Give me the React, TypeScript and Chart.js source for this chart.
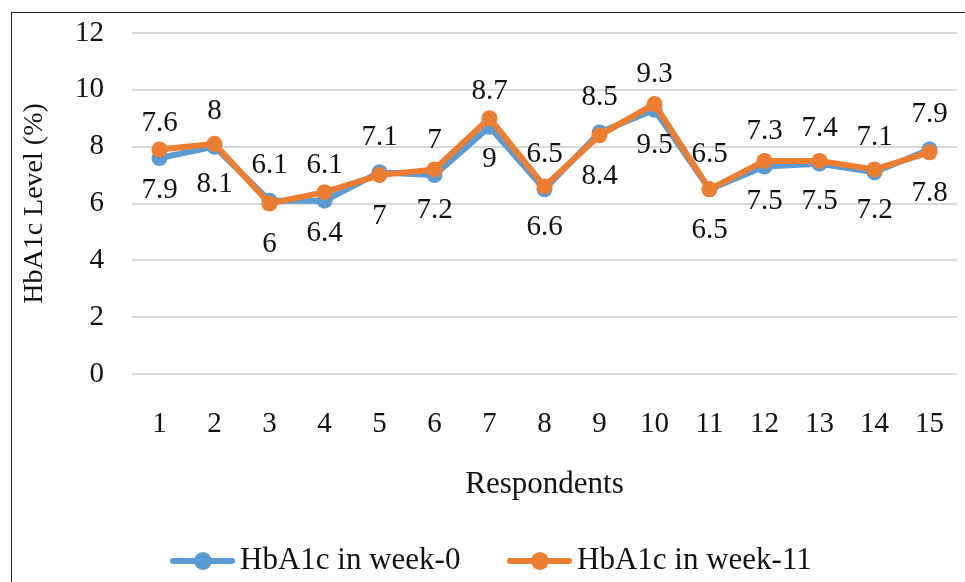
import React, { useEffect, useRef } from "react";
import { Chart, registerables } from "chart.js";

Chart.register(...registerables);

const categories = ["1", "2", "3", "4", "5", "6", "7", "8", "9", "10", "11", "12", "13", "14", "15"];
const week0 = [7.6, 8, 6.1, 6.1, 7.1, 7, 8.7, 6.5, 8.5, 9.3, 6.5, 7.3, 7.4, 7.1, 7.9];
const week11 = [7.9, 8.1, 6, 6.4, 7, 7.2, 9, 6.6, 8.4, 9.5, 6.5, 7.5, 7.5, 7.2, 7.8];
const seriesNames = ["HbA1c in week-0", "HbA1c in week-11"];
const yTicks = [0, 2, 4, 6, 8, 10, 12];

const BLUE = "#5B9BD5";
const ORANGE = "#ED7D31";
const FONT = '"Liberation Serif", "Times New Roman", serif';
const TEXT = "#111111";

const labelsPlugin = {
  id: "valueLabels",
  afterDatasetsDraw(chart: any) {
    const ctx = chart.ctx;
    ctx.save();
    ctx.font = `29px ${FONT}`;
    ctx.fillStyle = TEXT;
    ctx.textAlign = "center";
    ctx.textBaseline = "middle";
    chart.data.datasets.forEach((ds: any, di: number) => {
      const meta = chart.getDatasetMeta(di);
      meta.data.forEach((pt: any, i: number) => {
        const v = ds.data[i];
        const dy = di === 0 ? -35 : 41;
        ctx.fillText(String(v), pt.x, pt.y + dy);
      });
    });
    ctx.restore();
  },
};

const legendPlugin = {
  id: "customLegend",
  afterDraw(chart: any) {
    const ctx = chart.ctx;
    const cy = 561;
    const items = [
      { x: 170, color: BLUE, text: chart.data.datasets[0].label },
      { x: 507, color: ORANGE, text: chart.data.datasets[1].label },
    ];
    ctx.save();
    items.forEach((it) => {
      ctx.strokeStyle = it.color;
      ctx.lineWidth = 6;
      ctx.lineCap = "round";
      ctx.beginPath();
      ctx.moveTo(it.x + 3, cy);
      ctx.lineTo(it.x + 62, cy);
      ctx.stroke();
      ctx.fillStyle = it.color;
      ctx.beginPath();
      ctx.arc(it.x + 33, cy, 9, 0, Math.PI * 2);
      ctx.fill();
      ctx.fillStyle = TEXT;
      ctx.font = `31px ${FONT}`;
      ctx.textAlign = "left";
      ctx.textBaseline = "middle";
      ctx.fillText(it.text, it.x + 70, cy);
    });
    ctx.restore();
  },
};

export default function App() {
  const ref = useRef<HTMLCanvasElement | null>(null);

  useEffect(() => {
    document.body.style.margin = "0";
    const canvas = ref.current;
    if (!canvas) return;
    const chart = new Chart(canvas, {
      type: "line",
      data: {
        labels: categories,
        datasets: [
          {
            label: seriesNames[0],
            data: week0,
            borderColor: BLUE,
            backgroundColor: BLUE,
            borderWidth: 6,
            pointRadius: 8,
            pointBorderWidth: 0,
            pointBackgroundColor: BLUE,
            tension: 0,
            order: 1,
          },
          {
            label: seriesNames[1],
            data: week11,
            borderColor: ORANGE,
            backgroundColor: ORANGE,
            borderWidth: 6,
            pointRadius: 8,
            pointBorderWidth: 0,
            pointBackgroundColor: ORANGE,
            tension: 0,
            order: 0,
          },
        ],
      },
      options: {
        responsive: false,
        animation: false,
        devicePixelRatio: 1,
        layout: { padding: { top: 33, left: 0, right: 0, bottom: 0 } },
        plugins: {
          legend: { display: false },
          tooltip: { enabled: false },
        },
        scales: {
          x: {
            type: "category",
            offset: true,
            grid: { display: false, drawTicks: false },
            border: { display: false },
            ticks: {
              color: TEXT,
              font: { family: FONT, size: 29 },
              padding: 33,
              maxRotation: 0,
              autoSkip: false,
            },
            title: {
              display: true,
              text: "Respondents",
              color: TEXT,
              font: { family: FONT, size: 31 },
              padding: { top: 0, bottom: 79 },
            },
            afterFit: (scale: any) => {
              scale.height = 208;
              scale.paddingLeft = 0;
              scale.paddingRight = 0;
            },
          },
          y: {
            min: 0,
            max: 12,
            grid: { color: "#d9d9d9", lineWidth: 2, drawTicks: false },
            border: { display: false },
            afterBuildTicks: (scale: any) => {
              scale.ticks = yTicks.map((v) => ({ value: v }));
            },
            ticks: {
              color: TEXT,
              font: { family: FONT, size: 29 },
              padding: 28,
            },
            title: {
              display: true,
              text: "HbA1c Level (%)",
              color: TEXT,
              font: { family: FONT, size: 28 },
              padding: { top: 18, bottom: 0 },
            },
            afterFit: (scale: any) => {
              scale.width = 132;
              scale.paddingTop = 0;
              scale.paddingBottom = 0;
            },
          },
        },
      },
      plugins: [labelsPlugin, legendPlugin],
    });
    return () => chart.destroy();
  }, []);

  return (
    <div style={{ position: "relative", width: 965, height: 582, overflow: "hidden", background: "#fff" }}>
      <canvas ref={ref} width={965} height={582} style={{ position: "absolute", left: 0, top: 0, width: 965, height: 582 }} />
      <div
        style={{
          position: "absolute",
          left: 11,
          top: 12,
          width: 2000,
          height: 2000,
          borderTop: "1.5px solid #222",
          borderLeft: "1.5px solid #222",
          pointerEvents: "none",
        }}
      />
    </div>
  );
}
